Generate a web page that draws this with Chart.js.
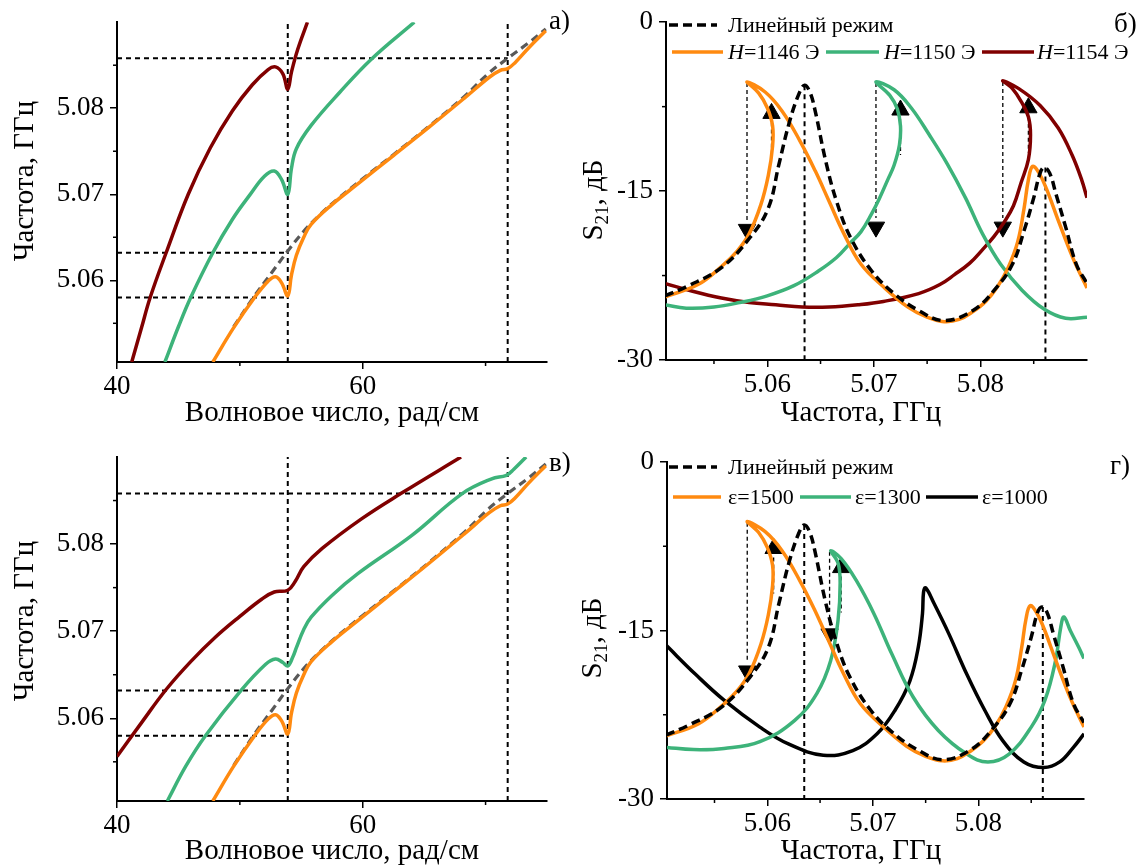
<!DOCTYPE html>
<html>
<head>
<meta charset="utf-8">
<script src="https://cdn.jsdelivr.net/npm/chart.js@4.4.1/dist/chart.umd.min.js"></script>
<style>
  body { margin: 0; background: #fff; width: 1144px; height: 868px; position: relative; overflow: hidden; }
  canvas { position: absolute; }
</style>
</head>
<body>
<canvas id="ca" width="572" height="434" style="left:0;top:0"></canvas>
<canvas id="cb" width="572" height="434" style="left:572px;top:0"></canvas>
<canvas id="cc" width="572" height="434" style="left:0;top:434px"></canvas>
<canvas id="cd" width="572" height="434" style="left:572px;top:434px"></canvas>
<script>
// Дисперсия (а, в): [волновое число, частота ГГц]
const dispOrange = [[47.8,5.0505],[49.5,5.0545],[51.2,5.0580],[52.3,5.0599],[52.9,5.0604],[53.4,5.0597],[53.9,5.0582],[54.2,5.0606],[54.6,5.0629],[55.2,5.0650],[55.8,5.0665],[57.5,5.0688],[59.6,5.0712],[62.5,5.0745],[65.4,5.0778],[68.3,5.0812],[70.3,5.0836],[71.2,5.0844],[71.8,5.0846],[72.4,5.0853],[73.5,5.0870],[74.9,5.0890]];
const dispLinear = [[49.5,5.0546],[51.2,5.0582],[52.6,5.0609],[53.9,5.0634],[55.2,5.0657],[56.5,5.0676],[58.0,5.0695],[60.0,5.0718],[62.5,5.0746],[65.4,5.0779],[68.3,5.0814],[70.2,5.0840],[71.8,5.0858],[73.5,5.0876],[74.9,5.0892]];
const dispGreenA = [[43.9,5.0505],[45.0,5.0546],[46.0,5.0580],[47.8,5.0632],[49.4,5.0671],[50.8,5.0699],[52.0,5.0721],[52.8,5.0727],[53.4,5.0717],[53.9,5.0700],[54.2,5.0730],[54.6,5.0753],[55.8,5.0780],[58.1,5.0818],[60.7,5.0857],[64.2,5.0900]];
const dispRedA = [[41.2,5.0505],[42.0,5.0545],[42.7,5.0580],[44.0,5.0632],[45.8,5.0700],[47.6,5.0754],[49.4,5.0797],[51.0,5.0827],[52.3,5.0845],[52.9,5.0848],[53.5,5.0840],[53.9,5.0822],[54.2,5.0842],[54.7,5.0868],[55.5,5.0900]];
const dispGreenC = [[44.1,5.0505],[45.6,5.0545],[47.2,5.0580],[50.1,5.0632],[52.1,5.0662],[52.9,5.0668],[53.5,5.0664],[53.9,5.0660],[54.3,5.0670],[54.6,5.0681],[55.2,5.0702],[55.8,5.0716],[57.5,5.0741],[59.6,5.0766],[64.0,5.0810],[68.1,5.0858],[70.5,5.0875],[71.7,5.0879],[72.3,5.0886],[73.3,5.0900]];
const dispRedC = [[40.0,5.0556],[42.0,5.0595],[44.0,5.0633],[46.0,5.0665],[48.0,5.0693],[50.0,5.0717],[51.8,5.0737],[52.8,5.0745],[53.9,5.0747],[54.5,5.0757],[55.2,5.0774],[56.7,5.0795],[59.9,5.0829],[63.1,5.0858],[68.0,5.0900]];
const dispVLines = [53.9, 71.8];
const dispHLines = [[5.0858, 71.8], [5.0632, 53.9], [5.0580, 53.9]];

// АЧХ (б, г): [частота ГГц, S21 дБ]
const s21Linear = [[5.0504,-24.3],[5.0524,-23.5],[5.0557,-21.8],[5.0584,-19.1],[5.0601,-16.5],[5.0611,-12.6],[5.0621,-8.8],[5.0630,-6.3],[5.0635,-5.6],[5.0640,-6.2],[5.0645,-7.9],[5.0655,-12.4],[5.0665,-15.9],[5.0678,-19.1],[5.0698,-22.1],[5.0719,-24.1],[5.0742,-25.6],[5.0766,-26.5],[5.0793,-25.6],[5.0813,-23.8],[5.0830,-21.5],[5.0841,-18.5],[5.0850,-15.6],[5.0856,-13.4],[5.0860,-12.9],[5.0865,-13.4],[5.0871,-15.3],[5.0880,-18.2],[5.0890,-21.5],[5.0900,-23.2]];
const s21Orange = [[5.0504,-24.4],[5.0535,-23.3],[5.0557,-21.7],[5.0572,-20.3],[5.0583,-18.8],[5.0594,-16.2],[5.0601,-13.6],[5.0605,-11.0],[5.0605,-9.2],[5.0600,-7.6],[5.0592,-6.3],[5.0581,-5.3],[5.0598,-6.2],[5.0614,-7.9],[5.0631,-10.6],[5.0645,-13.2],[5.0658,-15.9],[5.0672,-18.8],[5.0688,-21.5],[5.0709,-23.5],[5.0732,-25.3],[5.0750,-26.2],[5.0766,-26.6],[5.0780,-26.4],[5.0793,-25.7],[5.0805,-24.8],[5.0816,-23.5],[5.0826,-21.8],[5.0835,-19.5],[5.0841,-16.5],[5.0845,-14.0],[5.0849,-12.8],[5.0855,-13.4],[5.0862,-14.8],[5.0873,-17.6],[5.0887,-21.0],[5.0900,-23.6]];
const s21GreenB = [[5.0504,-25.1],[5.0524,-25.4],[5.0550,-25.3],[5.0574,-24.9],[5.0600,-24.3],[5.0625,-23.4],[5.0648,-22.1],[5.0665,-20.9],[5.0678,-19.6],[5.0688,-18.6],[5.0698,-17.0],[5.0705,-15.7],[5.0713,-14.0],[5.0719,-12.7],[5.0724,-10.9],[5.0725,-9.2],[5.0722,-7.7],[5.0715,-6.5],[5.0702,-5.3],[5.0719,-6.0],[5.0735,-7.6],[5.0752,-10.0],[5.0769,-12.6],[5.0786,-15.6],[5.0802,-18.8],[5.0819,-21.5],[5.0839,-23.8],[5.0860,-25.5],[5.0880,-26.3],[5.0900,-26.2]];
const s21RedB = [[5.0504,-23.2],[5.0530,-23.9],[5.0557,-24.5],[5.0583,-24.9],[5.0608,-25.1],[5.0633,-25.3],[5.0658,-25.3],[5.0685,-25.1],[5.0709,-24.8],[5.0742,-24.1],[5.0762,-23.3],[5.0776,-22.4],[5.0790,-21.4],[5.0802,-20.2],[5.0813,-19.0],[5.0822,-17.8],[5.0831,-16.3],[5.0838,-14.3],[5.0845,-12.2],[5.0847,-10.0],[5.0845,-8.4],[5.0838,-7.0],[5.0830,-5.9],[5.0821,-5.2],[5.0836,-5.9],[5.0856,-7.4],[5.0873,-9.4],[5.0886,-11.8],[5.0895,-14.0],[5.0900,-15.6]];
const s21GreenD = [[5.0504,-25.4],[5.0530,-25.6],[5.0559,-25.5],[5.0593,-24.9],[5.0626,-23.0],[5.0647,-20.6],[5.0660,-17.7],[5.0667,-14.1],[5.0669,-10.8],[5.0667,-9.0],[5.0660,-7.9],[5.0670,-8.6],[5.0684,-10.5],[5.0701,-13.5],[5.0718,-17.1],[5.0738,-20.9],[5.0762,-23.9],[5.0789,-26.0],[5.0809,-26.7],[5.0829,-26.0],[5.0850,-23.6],[5.0863,-21.2],[5.0873,-17.7],[5.0878,-14.7],[5.0881,-13.8],[5.0887,-15.0],[5.0895,-16.5],[5.0900,-17.5]];
const s21BlackD = [[5.0504,-16.3],[5.0532,-18.9],[5.0559,-21.2],[5.0593,-23.6],[5.0620,-25.1],[5.0653,-26.1],[5.0681,-25.7],[5.0704,-24.2],[5.0721,-22.1],[5.0735,-19.5],[5.0743,-16.5],[5.0747,-13.5],[5.0748,-11.6],[5.0750,-11.2],[5.0758,-12.6],[5.0772,-15.3],[5.0789,-18.9],[5.0806,-22.1],[5.0823,-24.8],[5.0843,-26.7],[5.0862,-27.2],[5.0877,-26.7],[5.0890,-25.4],[5.0900,-24.2]];
const s21VLines = [[5.0635,-5.6], [5.0861,-12.9]];

// стрелки скачков: [частота, верх, низ] и треугольники
const jumpsDownB = [[5.0581,-5.4,-17.6],[5.0702,-5.4,-17.4],[5.0821,-5.3,-17.4]];
const jumpsUpB = [[5.0604,-8.1],[5.0725,-7.8],[5.0845,-7.6]];
const jumpsDownD = [[5.0581,-5.4,-17.8],[5.0659,-8.0,-14.5]];
const jumpsUpD = [[5.0606,-7.7],[5.0670,-9.4]];

// оси
const dispXTicks = [40, 60], dispXMinor = [50, 70];
const freqTicks = [5.06, 5.07, 5.08], freqMinor = [5.055, 5.065, 5.075, 5.085];
const s21Ticks = [0, -15, -30], s21Minor = [-7.5, -22.5];

const legendB = ['Линейный режим', '=1146 Э', '=1150 Э', '=1154 Э'];
const legendD = ['Линейный режим', 'ε=1500', 'ε=1300', 'ε=1000'];

const ORANGE = '#ff8a10', GREEN = '#3db37a', RED = '#800000', GRAY = '#595959', BLACK = '#000';
const FONT = '"Liberation Serif", "Times New Roman", serif';

function pts(arr) { return arr.map(p => ({x: p[0], y: p[1]})); }

function curve(arr, color, w, dash) {
  return { data: pts(arr), showLine: true, borderColor: color, borderWidth: w,
           borderDash: dash || [], pointRadius: 0, tension: 0.4, fill: false };
}

function seg(a, b, w, dash) {
  return { data: pts([a, b]), showLine: true, borderColor: BLACK, borderWidth: w,
           borderDash: dash, pointRadius: 0, tension: 0, fill: false };
}

function tri(x, y, down) {
  return { data: [{x: x, y: y}], showLine: false, pointStyle: 'triangle', pointRadius: 10,
           rotation: down ? 180 : 0, backgroundColor: BLACK, borderColor: BLACK, borderWidth: 1 };
}

function axis(min, max, majors, fmt, size, isX) {
  return {
    type: 'linear', min: min, max: max,
    afterBuildTicks: s => { s.ticks = majors.map(v => ({value: v})); },
    afterFit: s => { if (isX) s.height = size; else s.width = size; },
    ticks: { callback: fmt, font: {family: FONT, size: 27}, color: BLACK,
             padding: isX ? 2 : 6, maxRotation: 0, autoSkip: false },
    grid: { drawOnChartArea: false, drawTicks: true, tickLength: 7, color: BLACK, lineWidth: 1.5 },
    border: { display: true, color: BLACK, width: 2 }
  };
}

// подписи, доп. засечки и легенда
function deco(cfg) {
  return {
    id: 'deco',
    afterDraw(chart) {
      const ctx = chart.ctx, a = chart.chartArea, sx = chart.scales.x, sy = chart.scales.y;
      ctx.save();
      ctx.strokeStyle = BLACK; ctx.lineWidth = 1.5;
      cfg.xMinor.forEach(v => {
        const p = sx.getPixelForValue(v);
        ctx.beginPath(); ctx.moveTo(p, a.bottom); ctx.lineTo(p, a.bottom + 4); ctx.stroke();
      });
      cfg.yMinor.forEach(v => {
        const p = sy.getPixelForValue(v);
        ctx.beginPath(); ctx.moveTo(a.left, p); ctx.lineTo(a.left - 4, p); ctx.stroke();
      });

      ctx.fillStyle = BLACK;
      ctx.textAlign = 'center'; ctx.textBaseline = 'middle';
      ctx.font = '29px ' + FONT;
      ctx.fillText(cfg.xTitle, cfg.xTitlePos[0], cfg.xTitlePos[1]);

      ctx.save();
      ctx.translate(cfg.yTitlePos[0], cfg.yTitlePos[1]);
      ctx.rotate(-Math.PI / 2);
      if (cfg.s21) {
        ctx.textAlign = 'left'; ctx.textBaseline = 'alphabetic';
        ctx.font = '29px ' + FONT; const w1 = ctx.measureText('S').width, w3 = ctx.measureText(', дБ').width;
        ctx.font = '19px ' + FONT; const w2 = ctx.measureText('21').width;
        let x = -(w1 + w2 + w3) / 2;
        ctx.font = '29px ' + FONT; ctx.fillText('S', x, 10); x += w1;
        ctx.font = '19px ' + FONT; ctx.fillText('21', x, 16); x += w2;
        ctx.font = '29px ' + FONT; ctx.fillText(', дБ', x, 10);
      } else {
        ctx.fillText(cfg.yTitle, 0, 0);
      }
      ctx.restore();

      ctx.textAlign = 'left';
      ctx.font = '27px ' + FONT;
      ctx.fillText(cfg.label, cfg.labelPos[0], cfg.labelPos[1]);

      (cfg.legend || []).forEach(it => {
        ctx.strokeStyle = it.color; ctx.lineWidth = 3.5;
        ctx.setLineDash(it.dash || []);
        ctx.beginPath(); ctx.moveTo(it.x0, it.y); ctx.lineTo(it.x1, it.y); ctx.stroke();
        ctx.setLineDash([]);
        let tx = it.tx;
        if (it.italicH) {
          ctx.font = 'italic 22px ' + FONT; ctx.fillText('H', tx, it.y + 1);
          tx += ctx.measureText('H').width;
        }
        ctx.font = '22px ' + FONT; ctx.fillText(it.text, tx, it.y + 1);
      });
      ctx.restore();
    }
  };
}

function dispChart(id, green, red, padTop, xH, label, labelPos, yTitleY, xTitleY) {
  const ds = [curve(dispOrange, ORANGE, 3.5), curve(dispLinear, GRAY, 3.2, [8, 5]),
              curve(green, GREEN, 3.5), curve(red, RED, 3.5)];
  dispVLines.forEach(v => ds.push(seg([v, 5.0505], [v, 5.0900], 2, [5, 4])));
  dispHLines.forEach(h => ds.push(seg([40, h[0]], [h[1], h[0]], 2, [5, 4])));
  new Chart(document.getElementById(id), {
    type: 'scatter',
    data: { datasets: ds },
    options: {
      responsive: false, animation: false, devicePixelRatio: 1, events: [],
      layout: { padding: { left: 0, top: padTop, right: 25, bottom: 0 } },
      plugins: { legend: { display: false }, tooltip: { enabled: false } },
      scales: {
        x: axis(40, 75, dispXTicks, v => String(v), xH, true),
        y: axis(5.0505, 5.0900, freqTicks, v => v.toFixed(2), 117, false)
      }
    },
    plugins: [deco({ xMinor: dispXMinor, yMinor: [5.055, 5.065, 5.075, 5.085],
      xTitle: 'Волновое число, рад/см', xTitlePos: [332, xTitleY],
      yTitle: 'Частота, ГГц', yTitlePos: [25, yTitleY],
      label: label, labelPos: labelPos })]
  });
}

function s21Chart(id, lines, down, up, left, padTop, padRight, xH, label, labelPos, legend, yTitlePos, xTitleY) {
  const ds = [curve(s21Linear, BLACK, 3.5, [9, 5])].concat(lines);
  s21VLines.forEach(v => ds.push(seg([v[0], v[1]], [v[0], -30], 2, [5, 4])));
  down.forEach(d => { ds.push(seg([d[0], d[1]], [d[0], d[2]], 1.3, [4, 3])); ds.push(tri(d[0], d[2] - 0.8, true)); });
  up.forEach(u => { ds.push(seg([u[0], u[1] - 0.8], [u[0], u[1] - 4], 1.3, [4, 3])); ds.push(tri(u[0], u[1], false)); });
  new Chart(document.getElementById(id), {
    type: 'scatter',
    data: { datasets: ds },
    options: {
      responsive: false, animation: false, devicePixelRatio: 1, events: [],
      layout: { padding: { left: 0, top: padTop, right: padRight, bottom: 0 } },
      plugins: { legend: { display: false }, tooltip: { enabled: false } },
      scales: {
        x: axis(5.0505, 5.0900, freqTicks, v => v.toFixed(2), xH, true),
        y: axis(-30, 0, s21Ticks, v => String(v), left, false)
      }
    },
    plugins: [deco({ xMinor: freqMinor, yMinor: s21Minor,
      xTitle: 'Частота, ГГц', xTitlePos: [289, xTitleY],
      s21: true, yTitlePos: yTitlePos,
      label: label, labelPos: labelPos, legend: legend })]
  });
}

dispChart('ca', dispGreenA, dispRedA, 13, 72, 'а)', [549, 22], 181, 413);
dispChart('cc', dispGreenC, dispRedC, 23, 67, 'в)', [549, 30], 187, 417);

s21Chart('cb',
  [curve(s21Orange, ORANGE, 3.5), curve(s21GreenB, GREEN, 3.5), curve(s21RedB, RED, 3.5)],
  jumpsDownB, jumpsUpB, 94, 20, 57, 74, 'б)', [542, 25],
  [ { x0: 97, x1: 145, y: 25, color: BLACK, dash: [9, 5], tx: 156, text: legendB[0] },
    { x0: 100, x1: 151, y: 52, color: ORANGE, tx: 156, text: legendB[1], italicH: true },
    { x0: 254, x1: 307, y: 52, color: GREEN, tx: 312, text: legendB[2], italicH: true },
    { x0: 410, x1: 462, y: 52, color: RED, tx: 465, text: legendB[3], italicH: true } ],
  [20, 200], 413);

s21Chart('cd',
  [curve(s21Orange, ORANGE, 3.5), curve(s21GreenD, GREEN, 3.5), curve(s21BlackD, BLACK, 3.5)],
  jumpsDownD, jumpsUpD, 95, 28, 60, 69, 'г)', [538, 33],
  [ { x0: 97, x1: 145, y: 33, color: BLACK, dash: [9, 5], tx: 156, text: legendD[0] },
    { x0: 101, x1: 149, y: 63, color: ORANGE, tx: 156, text: legendD[1] },
    { x0: 228, x1: 279, y: 63, color: GREEN, tx: 283, text: legendD[2] },
    { x0: 354, x1: 406, y: 63, color: BLACK, tx: 410, text: legendD[3] } ],
  [19, 204], 417);
</script>
</body>
</html>
